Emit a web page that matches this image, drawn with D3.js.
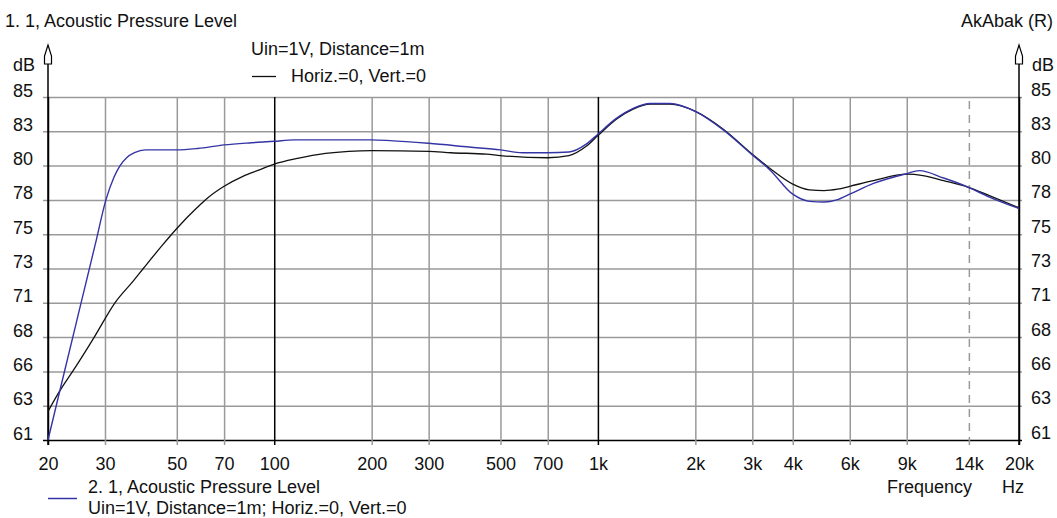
<!DOCTYPE html>
<html>
<head>
<meta charset="utf-8">
<script src="https://cdn.jsdelivr.net/npm/d3@7/dist/d3.min.js"></script>
<style>
  html, body { margin: 0; padding: 0; background: #fff; }
  svg { display: block; }
  text { font-family: "Liberation Sans", Arial, sans-serif; font-size: 18px; fill: #111; }
</style>
</head>
<body>
<svg id="chart" width="1057" height="518"></svg>
<script>
// ---------- DATA ----------
const xTickValues = [20, 30, 50, 70, 100, 200, 300, 500, 700, 1000, 2000, 3000, 4000, 6000, 9000, 14000, 20000];
const xTickLabels = ["20", "30", "50", "70", "100", "200", "300", "500", "700", "1k", "2k", "3k", "4k", "6k", "9k", "14k", "20k"];
const yTickValues = [61, 63.4, 65.8, 68.2, 70.6, 73, 75.4, 77.8, 80.2, 82.6, 85];
const yTickLabels = ["61", "63", "66", "68", "71", "73", "75", "78", "80", "83", "85"];

// Series 1 (black): "1. 1, Acoustic Pressure Level"
const freqBlack = [20, 21.7, 24, 27.8, 32.2, 36.6, 39.4, 45, 50, 58, 62, 70, 80, 90, 100, 118, 144, 170, 200, 300, 352, 453, 500, 700, 814, 920, 1000, 1140, 1285, 1450, 1670, 2000, 2440, 3000, 3400, 4000, 4500, 5000, 5500, 6000, 7100, 9000, 10100, 11700, 13900, 16200, 20000];
const splBlack  = [63.0, 64.4, 65.9, 68.2, 70.6, 72.1, 73.0, 74.6, 75.8, 77.3, 77.9, 78.75, 79.45, 79.9, 80.3, 80.7, 81.05, 81.2, 81.25, 81.2, 81.1, 81.0, 80.9, 80.75, 80.9, 81.55, 82.3, 83.45, 84.15, 84.5, 84.5, 84.0, 82.75, 81.0, 80.0, 78.9, 78.5, 78.45, 78.55, 78.75, 79.15, 79.6, 79.5, 79.15, 78.7, 78.1, 77.25];

// Series 2 (blue): "2. 1, Acoustic Pressure Level"
const freqBlue = [20, 22, 25, 28, 30.2, 32, 33.4, 35, 37, 40, 45, 50, 58, 70, 85, 100, 115, 140, 200, 228, 300, 400, 500, 584, 700, 814, 920, 1000, 1140, 1285, 1450, 1670, 2000, 2440, 3000, 3400, 4000, 4500, 5000, 5470, 6000, 7100, 9000, 9850, 11700, 13900, 16200, 20000];
const splBlue  = [61.0, 64.9, 70.1, 74.7, 77.8, 79.4, 80.2, 80.75, 81.1, 81.3, 81.3, 81.3, 81.4, 81.65, 81.8, 81.9, 82.0, 82.0, 82.0, 81.95, 81.76, 81.5, 81.3, 81.1, 81.1, 81.15, 81.7, 82.4, 83.5, 84.2, 84.55, 84.55, 84.0, 82.7, 80.95, 79.9, 78.2, 77.7, 77.65, 77.8, 78.2, 78.95, 79.64, 79.85, 79.33, 78.7, 78.0, 77.2];

// ---------- LAYOUT ----------
const svg = d3.select("#chart");
const L = 48, R = 1019, T = 97, B = 440;
const x = d3.scaleLog().domain([20, 20000]).range([L, R]);
const y = d3.scaleLinear().domain([61, 85]).range([B, T]);

const gridGray = "#9a9a9a";
const blue = "#3434a6";

// horizontal grid + left labels
const yAxisL = d3.axisLeft(y)
  .tickValues(yTickValues)
  .tickFormat((d, i) => yTickLabels[i])
  .tickSize(-(R + 3 - (L - 5)))
  .tickPadding(10);
const gL = svg.append("g").attr("transform", `translate(${L - 5},0)`).call(yAxisL);
gL.select(".domain").remove();
gL.selectAll(".tick line")
  .attr("stroke", (d) => d === 61 ? "#000" : gridGray)
  .attr("stroke-width", 1.5);
gL.selectAll(".tick text").attr("dy", "-1px").attr("x", -10).style("font-size", "18px").attr("fill", "#111");

// right labels
const yAxisR = d3.axisRight(y)
  .tickValues(yTickValues)
  .tickFormat((d, i) => yTickLabels[i])
  .tickSize(0)
  .tickPadding(12);
const gR = svg.append("g").attr("transform", `translate(${R},0)`).call(yAxisR);
gR.select(".domain").remove();
gR.selectAll(".tick text").attr("dy", "-2px").style("font-size", "18px").attr("fill", "#111");

// vertical grid + bottom labels
const xAxis = d3.axisBottom(x)
  .tickValues(xTickValues)
  .tickFormat((d, i) => xTickLabels[i])
  .tickSize(-(B + 5 - T))
  .tickPadding(12);
const gX = svg.append("g").attr("transform", `translate(0,${B + 5})`).call(xAxis);
gX.select(".domain").remove();
gX.selectAll(".tick line")
  .attr("stroke", (d) => (d === 100 || d === 1000 || d === 20 || d === 20000) ? "#000" : gridGray)
  .attr("stroke-width", 1.5)
  .attr("stroke-dasharray", (d) => d === 14000 ? "8,6" : null);
gX.selectAll(".tick text").style("font-size", "18px").attr("fill", "#111");

// axes with hollow arrows
[L, R].forEach((ax) => {
  svg.append("line").attr("x1", ax).attr("x2", ax).attr("y1", 64).attr("y2", B + 5)
    .attr("stroke", "#000").attr("stroke-width", 1.5);
  svg.append("path")
    .attr("d", `M${ax},45 L${ax + 3.5},56 L${ax + 3.5},64 L${ax - 3.5},64 L${ax - 3.5},56 Z`)
    .attr("fill", "#fff").attr("stroke", "#000").attr("stroke-width", 1.2);
});

// curves
const line = d3.line().x((d) => x(d[0])).y((d) => y(d[1])).curve(d3.curveMonotoneX);
svg.append("path").datum(freqBlack.map((f, i) => [f, splBlack[i]]))
  .attr("d", line).attr("fill", "none").attr("stroke", "#111").attr("stroke-width", 1.3);
svg.append("path").datum(freqBlue.map((f, i) => [f, splBlue[i]]))
  .attr("d", line).attr("fill", "none").attr("stroke", blue).attr("stroke-width", 1.4);

// texts
svg.append("text").attr("x", 5).attr("y", 27).text("1. 1, Acoustic Pressure Level");
svg.append("text").attr("x", 1053).attr("y", 27).attr("text-anchor", "end").text("AkAbak (R)");
svg.append("text").attr("x", 13).attr("y", 71).text("dB");
svg.append("text").attr("x", 1032).attr("y", 71).text("dB");

svg.append("text").attr("x", 251).attr("y", 55).text("Uin=1V, Distance=1m");
svg.append("line").attr("x1", 252).attr("x2", 276).attr("y1", 76.5).attr("y2", 76.5).attr("stroke", "#111").attr("stroke-width", 1.3);
svg.append("text").attr("x", 291).attr("y", 82).text("Horiz.=0, Vert.=0");

svg.append("text").attr("x", 887).attr("y", 493).text("Frequency");
svg.append("text").attr("x", 1002).attr("y", 493).text("Hz");

svg.append("line").attr("x1", 48).attr("x2", 77).attr("y1", 498.5).attr("y2", 498.5).attr("stroke", blue).attr("stroke-width", 1.5);
svg.append("text").attr("x", 88).attr("y", 493).text("2. 1, Acoustic Pressure Level");
svg.append("text").attr("x", 88).attr("y", 514).text("Uin=1V, Distance=1m; Horiz.=0, Vert.=0");
</script>
</body>
</html>
